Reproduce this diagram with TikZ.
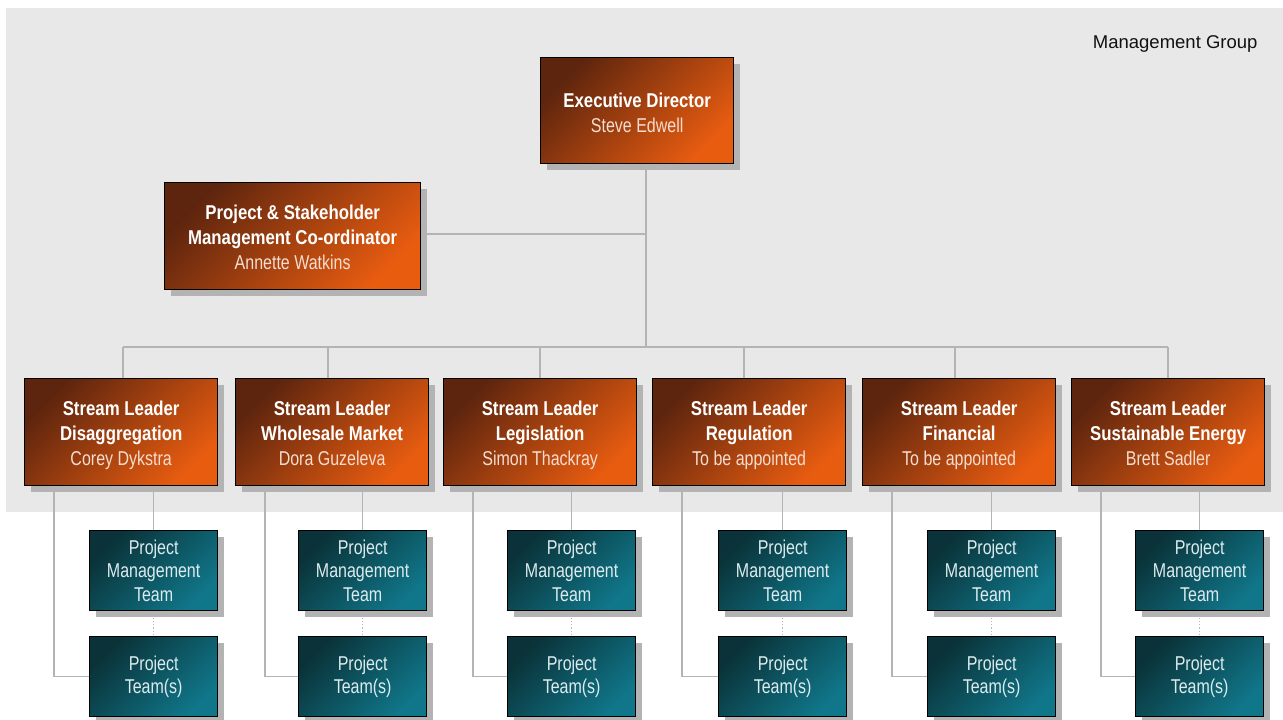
\documentclass[tikz,border=0pt]{standalone}
\usepackage{fontspec}
\setmainfont{Liberation Sans}
\newfontfamily\boxfont{Liberation Sans}[FakeStretch=0.80, BoldFeatures={FakeStretch=0.84}]
\usetikzlibrary{shadows,calc}

\definecolor{groupbg}{HTML}{E8E8E8}
\definecolor{wire}{HTML}{B4B4B4}
\definecolor{shade}{HTML}{B3B3B3}
\definecolor{rustA}{HTML}{5E250E}
\definecolor{rustB}{HTML}{E85C10}
\definecolor{tealA}{HTML}{0A3238}
\definecolor{tealB}{HTML}{10778A}
\definecolor{rustText}{HTML}{F6DDD0}
\definecolor{tealText}{HTML}{DDEBEE}
\definecolor{titleText}{HTML}{111111}

\pgfdeclarelayer{back}
\pgfdeclarelayer{conn}
\pgfsetlayers{back,conn,main}

\tikzset{
  box/.style={draw=black, line width=1.3pt, anchor=north west, inner sep=0pt,
    align=center,
    drop shadow={fill=shade, opacity=1, shadow xshift=6pt, shadow yshift=-6pt}},
  rustbox/.style={box, top color=rustA, bottom color=rustB, shading angle=45,
    text=white, font=\boxfont\fontsize{20}{25}\selectfont},
  leadbox/.style={rustbox, minimum width=193pt, minimum height=107pt},
  teambox/.style={box, top color=tealA, bottom color=tealB, shading angle=45,
    text=tealText, minimum width=128pt, minimum height=80pt,
    font=\boxfont\fontsize{20}{23.5}\selectfont},
  link/.style={draw=wire, line width=1.5pt},
  dotlink/.style={draw=wire, line width=1.2pt, dotted},
}

% fixed first-line height and last-line depth keep text blocks evenly placed
\newcommand{\lift}[1]{\rule{0pt}{#1}}
\newcommand{\sink}{\rule[-5pt]{0pt}{5pt}}
\newcommand{\who}[1]{{\mdseries\color{rustText}#1}\sink}

\begin{document}
\begin{tikzpicture}[x=1pt, y=-1pt]
\useasboundingbox (0,0) rectangle (1283,720);

\begin{pgfonlayer}{back}
  \fill[groupbg] (6,8) rectangle (1283,512);
\end{pgfonlayer}

\node[anchor=east, text=titleText, font=\fontsize{18.5}{22}\selectfont] (title) at (1261,44) {Management Group};

% management tier
\node[rustbox, minimum width=193pt, minimum height=106pt] (exec) at (540,57)
  {\lift{24pt}\textbf{Executive Director}\\\who{Steve Edwell}};
\node[rustbox, minimum width=256pt, minimum height=107pt] (coord) at (164,182)
  {\lift{22pt}\textbf{Project \& Stakeholder}\\\textbf{Management Co-ordinator}\\\who{Annette Watkins}};

% stream leaders
\node[leadbox] (L1) at (24,378)   {\lift{21pt}\textbf{Stream Leader}\\\textbf{Disaggregation}\\\who{Corey Dykstra}};
\node[leadbox] (L2) at (235,378)  {\lift{21pt}\textbf{Stream Leader}\\\textbf{Wholesale Market}\\\who{Dora Guzeleva}};
\node[leadbox] (L3) at (443,378)  {\lift{21pt}\textbf{Stream Leader}\\\textbf{Legislation}\\\who{Simon Thackray}};
\node[leadbox] (L4) at (652,378)  {\lift{21pt}\textbf{Stream Leader}\\\textbf{Regulation}\\\who{To be appointed}};
\node[leadbox] (L5) at (862,378)  {\lift{21pt}\textbf{Stream Leader}\\\textbf{Financial}\\\who{To be appointed}};
\node[leadbox] (L6) at (1071,378) {\lift{21pt}\textbf{Stream Leader}\\\textbf{Sustainable Energy}\\\who{Brett Sadler}};

% project teams under each stream
\foreach \i/\x in {1/89, 2/298, 3/507, 4/718, 5/927, 6/1135} {
  \node[teambox] (P\i) at (\x,530) {Project\\Management\\Team};
  \node[teambox] (T\i) at (\x,636) {Project\\Team(s)};
}

% reporting lines
\coordinate (bus) at (646,347);
\coordinate (hub) at (646,234);
\foreach \i/\x in {1/123, 2/328, 3/540, 4/744, 5/955, 6/1168}
  \coordinate (t\i) at (\x,347);

\begin{pgfonlayer}{conn}
  \draw[link] (exec.south -| bus) -- (bus);
  \draw[link] (hub -| coord.east) -- (hub);
  \draw[link] (t1) -- (t6);
  \foreach \i in {1,...,6} {
    \draw[link] (t\i) -- (t\i |- L\i.north);
    \draw[link] (L\i.south -| P\i.north) -- (P\i.north);
    \draw[link] ($(L\i.south west)+(30,0)$) |- (T\i.west);
    \draw[dotlink] (P\i.south) -- (T\i.north);
  }
\end{pgfonlayer}
\end{tikzpicture}
\end{document}
